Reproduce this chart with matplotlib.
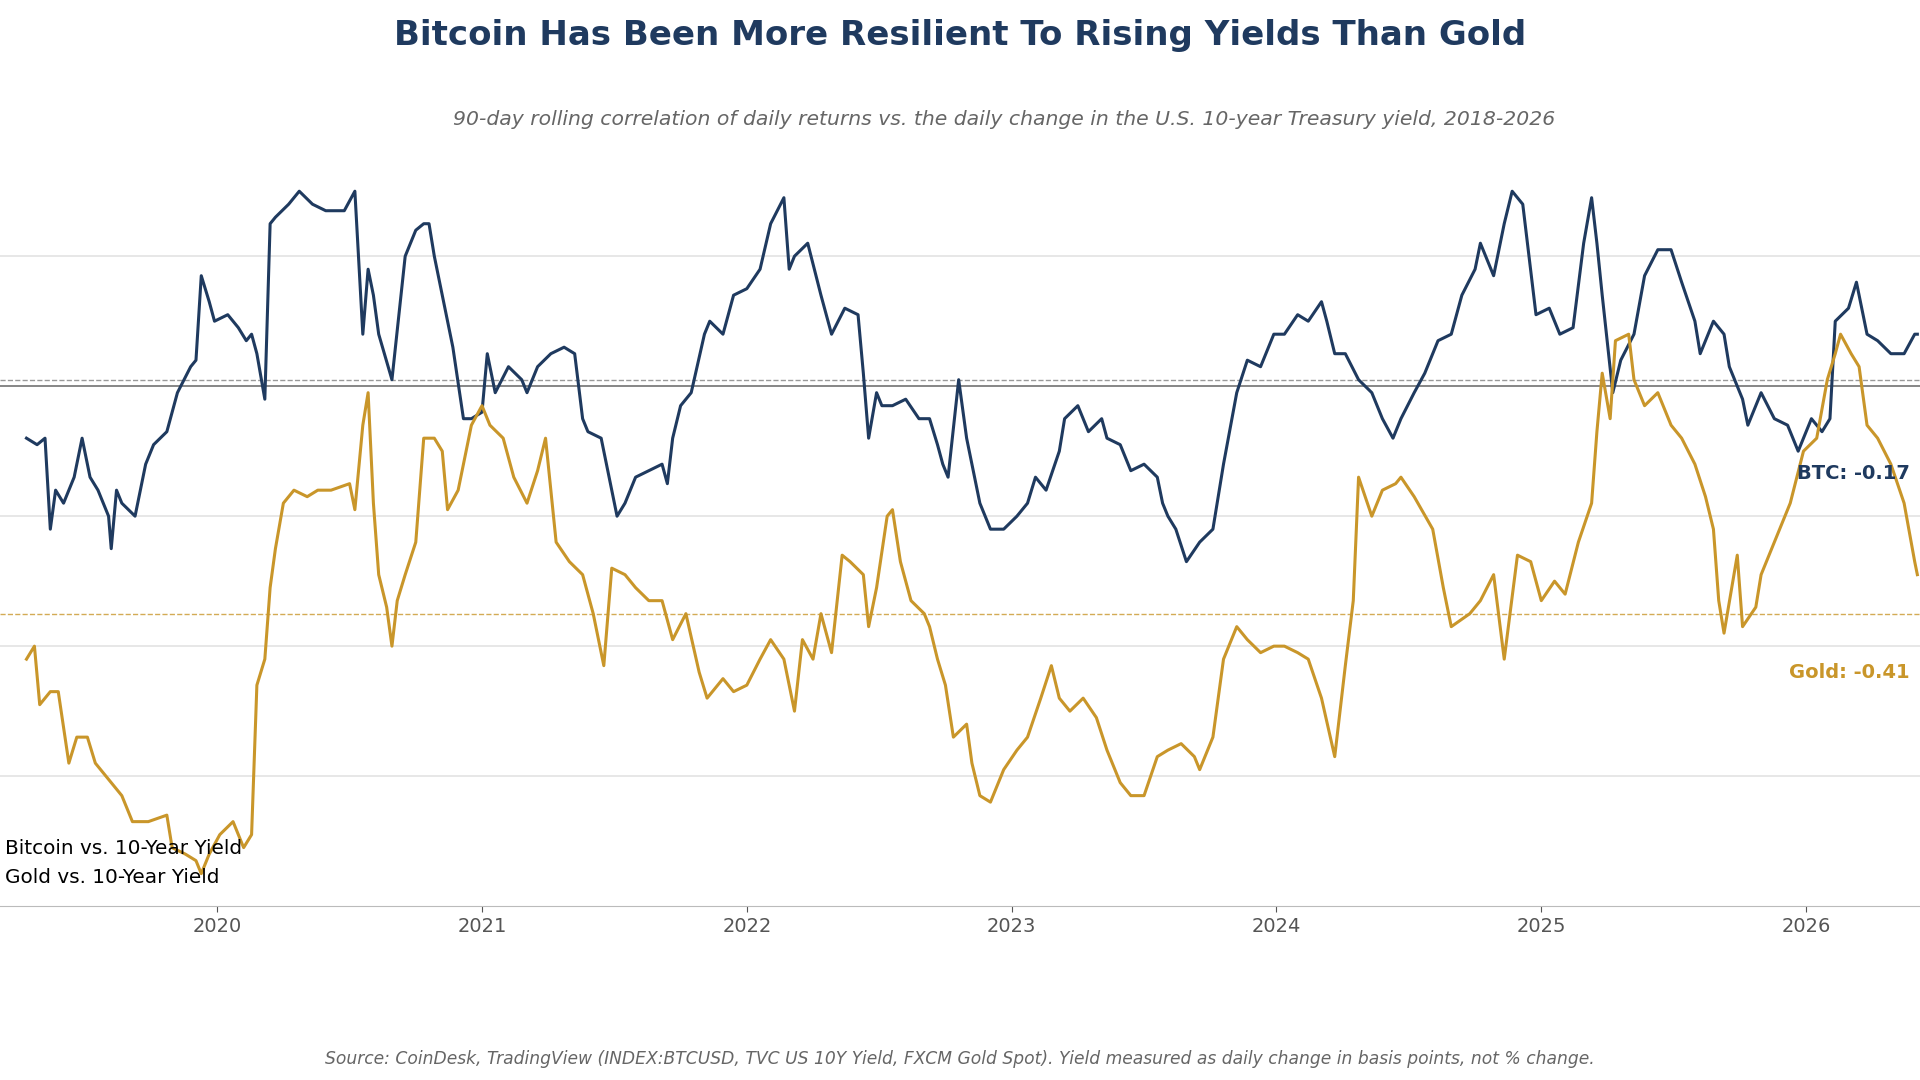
import matplotlib
matplotlib.use("Agg")
import matplotlib.pyplot as plt

# 90-day rolling correlation (decimal year, correlation)
btc_years = [2019.28, 2019.32, 2019.35, 2019.37, 2019.39, 2019.42, 2019.46, 2019.49, 2019.52, 2019.55, 2019.59, 2019.60, 2019.62, 2019.64, 2019.69, 2019.73, 2019.76, 2019.81, 2019.85, 2019.90, 2019.92, 2019.94, 2019.97, 2019.99, 2020.04, 2020.08, 2020.11, 2020.13, 2020.15, 2020.18, 2020.20, 2020.22, 2020.27, 2020.31, 2020.36, 2020.41, 2020.48, 2020.52, 2020.55, 2020.57, 2020.59, 2020.61, 2020.66, 2020.71, 2020.75, 2020.78, 2020.80, 2020.82, 2020.85, 2020.89, 2020.93, 2020.96, 2021.00, 2021.02, 2021.05, 2021.10, 2021.15, 2021.17, 2021.21, 2021.26, 2021.31, 2021.35, 2021.38, 2021.40, 2021.45, 2021.48, 2021.51, 2021.54, 2021.58, 2021.63, 2021.68, 2021.70, 2021.72, 2021.75, 2021.79, 2021.84, 2021.86, 2021.91, 2021.95, 2022.00, 2022.05, 2022.09, 2022.14, 2022.16, 2022.18, 2022.23, 2022.28, 2022.32, 2022.37, 2022.42, 2022.44, 2022.46, 2022.49, 2022.51, 2022.55, 2022.60, 2022.65, 2022.69, 2022.72, 2022.74, 2022.76, 2022.80, 2022.83, 2022.88, 2022.92, 2022.97, 2023.02, 2023.06, 2023.09, 2023.13, 2023.18, 2023.20, 2023.25, 2023.29, 2023.34, 2023.36, 2023.41, 2023.45, 2023.50, 2023.55, 2023.57, 2023.59, 2023.62, 2023.66, 2023.71, 2023.76, 2023.80, 2023.85, 2023.89, 2023.94, 2023.99, 2024.03, 2024.08, 2024.12, 2024.17, 2024.19, 2024.22, 2024.26, 2024.31, 2024.36, 2024.40, 2024.44, 2024.47, 2024.52, 2024.56, 2024.61, 2024.66, 2024.70, 2024.75, 2024.77, 2024.79, 2024.82, 2024.86, 2024.89, 2024.91, 2024.93, 2024.98, 2025.03, 2025.07, 2025.12, 2025.16, 2025.19, 2025.21, 2025.23, 2025.27, 2025.30, 2025.35, 2025.39, 2025.44, 2025.49, 2025.53, 2025.58, 2025.60, 2025.65, 2025.69, 2025.71, 2025.76, 2025.78, 2025.83, 2025.88, 2025.93, 2025.97, 2026.02, 2026.06, 2026.09, 2026.11, 2026.16, 2026.19, 2026.23, 2026.27, 2026.32, 2026.37, 2026.41, 2026.42]
btc_corr = [0.12, 0.11, 0.12, -0.02, 0.04, 0.02, 0.06, 0.12, 0.06, 0.04, 0.00, -0.05, 0.04, 0.02, 0.00, 0.08, 0.11, 0.13, 0.19, 0.23, 0.24, 0.37, 0.33, 0.30, 0.31, 0.29, 0.27, 0.28, 0.25, 0.18, 0.45, 0.46, 0.48, 0.50, 0.48, 0.47, 0.47, 0.50, 0.28, 0.38, 0.34, 0.28, 0.21, 0.40, 0.44, 0.45, 0.45, 0.40, 0.34, 0.26, 0.15, 0.15, 0.16, 0.25, 0.19, 0.23, 0.21, 0.19, 0.23, 0.25, 0.26, 0.25, 0.15, 0.13, 0.12, 0.06, 0.00, 0.02, 0.06, 0.07, 0.08, 0.05, 0.12, 0.17, 0.19, 0.28, 0.30, 0.28, 0.34, 0.35, 0.38, 0.45, 0.49, 0.38, 0.40, 0.42, 0.34, 0.28, 0.32, 0.31, 0.22, 0.12, 0.19, 0.17, 0.17, 0.18, 0.15, 0.15, 0.11, 0.08, 0.06, 0.21, 0.12, 0.02, -0.02, -0.02, 0.00, 0.02, 0.06, 0.04, 0.10, 0.15, 0.17, 0.13, 0.15, 0.12, 0.11, 0.07, 0.08, 0.06, 0.02, 0.00, -0.02, -0.07, -0.04, -0.02, 0.08, 0.19, 0.24, 0.23, 0.28, 0.28, 0.31, 0.30, 0.33, 0.30, 0.25, 0.25, 0.21, 0.19, 0.15, 0.12, 0.15, 0.19, 0.22, 0.27, 0.28, 0.34, 0.38, 0.42, 0.40, 0.37, 0.45, 0.50, 0.49, 0.48, 0.31, 0.32, 0.28, 0.29, 0.42, 0.49, 0.42, 0.34, 0.19, 0.24, 0.28, 0.37, 0.41, 0.41, 0.36, 0.30, 0.25, 0.30, 0.28, 0.23, 0.18, 0.14, 0.19, 0.15, 0.14, 0.10, 0.15, 0.13, 0.15, 0.30, 0.32, 0.36, 0.28, 0.27, 0.25, 0.25, 0.28, 0.28]

gold_years = [2019.28, 2019.31, 2019.33, 2019.37, 2019.40, 2019.44, 2019.47, 2019.51, 2019.54, 2019.60, 2019.64, 2019.68, 2019.74, 2019.81, 2019.83, 2019.88, 2019.92, 2019.94, 2019.97, 2020.01, 2020.06, 2020.10, 2020.13, 2020.15, 2020.18, 2020.20, 2020.22, 2020.25, 2020.29, 2020.34, 2020.38, 2020.43, 2020.50, 2020.52, 2020.55, 2020.57, 2020.59, 2020.61, 2020.64, 2020.66, 2020.68, 2020.71, 2020.75, 2020.78, 2020.82, 2020.85, 2020.87, 2020.91, 2020.96, 2021.00, 2021.03, 2021.08, 2021.12, 2021.17, 2021.21, 2021.24, 2021.28, 2021.33, 2021.38, 2021.42, 2021.46, 2021.49, 2021.54, 2021.58, 2021.63, 2021.68, 2021.72, 2021.77, 2021.82, 2021.85, 2021.91, 2021.95, 2022.00, 2022.05, 2022.09, 2022.14, 2022.18, 2022.21, 2022.25, 2022.28, 2022.32, 2022.36, 2022.39, 2022.44, 2022.46, 2022.49, 2022.53, 2022.55, 2022.58, 2022.62, 2022.67, 2022.69, 2022.72, 2022.75, 2022.78, 2022.83, 2022.85, 2022.88, 2022.92, 2022.97, 2023.02, 2023.06, 2023.11, 2023.15, 2023.18, 2023.22, 2023.27, 2023.32, 2023.36, 2023.41, 2023.45, 2023.50, 2023.55, 2023.59, 2023.64, 2023.69, 2023.71, 2023.76, 2023.80, 2023.85, 2023.89, 2023.94, 2023.99, 2024.03, 2024.08, 2024.12, 2024.17, 2024.22, 2024.24, 2024.26, 2024.29, 2024.31, 2024.36, 2024.40, 2024.45, 2024.47, 2024.52, 2024.59, 2024.63, 2024.66, 2024.73, 2024.77, 2024.82, 2024.86, 2024.91, 2024.96, 2025.00, 2025.05, 2025.09, 2025.14, 2025.19, 2025.21, 2025.23, 2025.26, 2025.28, 2025.33, 2025.35, 2025.39, 2025.44, 2025.49, 2025.53, 2025.58, 2025.62, 2025.65, 2025.67, 2025.69, 2025.74, 2025.76, 2025.81, 2025.83, 2025.88, 2025.92, 2025.94, 2025.99, 2026.04, 2026.08, 2026.11, 2026.13, 2026.17, 2026.20, 2026.23, 2026.27, 2026.32, 2026.37, 2026.41, 2026.42]
gold_corr = [-0.22, -0.20, -0.29, -0.27, -0.27, -0.38, -0.34, -0.34, -0.38, -0.41, -0.43, -0.47, -0.47, -0.46, -0.51, -0.52, -0.53, -0.55, -0.52, -0.49, -0.47, -0.51, -0.49, -0.26, -0.22, -0.11, -0.05, 0.02, 0.04, 0.03, 0.04, 0.04, 0.05, 0.01, 0.14, 0.19, 0.02, -0.09, -0.14, -0.20, -0.13, -0.09, -0.04, 0.12, 0.12, 0.10, 0.01, 0.04, 0.14, 0.17, 0.14, 0.12, 0.06, 0.02, 0.07, 0.12, -0.04, -0.07, -0.09, -0.15, -0.23, -0.08, -0.09, -0.11, -0.13, -0.13, -0.19, -0.15, -0.24, -0.28, -0.25, -0.27, -0.26, -0.22, -0.19, -0.22, -0.30, -0.19, -0.22, -0.15, -0.21, -0.06, -0.07, -0.09, -0.17, -0.11, 0.00, 0.01, -0.07, -0.13, -0.15, -0.17, -0.22, -0.26, -0.34, -0.32, -0.38, -0.43, -0.44, -0.39, -0.36, -0.34, -0.28, -0.23, -0.28, -0.30, -0.28, -0.31, -0.36, -0.41, -0.43, -0.43, -0.37, -0.36, -0.35, -0.37, -0.39, -0.34, -0.22, -0.17, -0.19, -0.21, -0.20, -0.20, -0.21, -0.22, -0.28, -0.37, -0.30, -0.23, -0.13, 0.06, 0.00, 0.04, 0.05, 0.06, 0.03, -0.02, -0.11, -0.17, -0.15, -0.13, -0.09, -0.22, -0.06, -0.07, -0.13, -0.10, -0.12, -0.04, 0.02, 0.13, 0.22, 0.15, 0.27, 0.28, 0.21, 0.17, 0.19, 0.14, 0.12, 0.08, 0.03, -0.02, -0.13, -0.18, -0.06, -0.17, -0.14, -0.09, -0.04, 0.00, 0.02, 0.10, 0.12, 0.21, 0.25, 0.28, 0.25, 0.23, 0.14, 0.12, 0.08, 0.02, -0.07, -0.09]

btc_avg = 0.21
btc_ref = 0.20
gold_avg = -0.15
year_ticks = [2020, 2021, 2022, 2023, 2024, 2025, 2026]
grid_levels = [0.4, 0.2, 0.0, -0.2, -0.4]

NAVY = "#1f3a5f"
GOLD = "#c9962a"

fig = plt.figure(figsize=(19.2, 10.8), dpi=100)
ax = fig.add_axes([0.0, 0.161, 1.0, 0.68])

for g in grid_levels:
    ax.axhline(g, color="#e3e3e3", lw=1.2, zorder=0)
ax.axhline(btc_ref, color="#777777", lw=1.2, zorder=1)
ax.axhline(btc_avg, color="#999999", lw=1.0, ls="--", zorder=1)
ax.axhline(gold_avg, color=GOLD, lw=1.0, ls="--", alpha=0.8, zorder=1)

ax.plot(btc_years, btc_corr, color=NAVY, lw=2.2, zorder=3)
ax.plot(gold_years, gold_corr, color=GOLD, lw=2.2, zorder=3)

ax.set_xlim(2019.18, 2026.43)
ax.set_ylim(-0.60, 0.53)
ax.set_yticks([])
ax.set_xticks(year_ticks)
ax.set_xticklabels([str(y) for y in year_ticks])
ax.tick_params(axis="x", colors="#555555", labelsize=14, length=4)
for s in ["top", "left", "right"]:
    ax.spines[s].set_visible(False)
ax.spines["bottom"].set_color("#bbbbbb")

ax.text(2026.39, 0.066, "BTC: -0.17", color=NAVY, fontsize=14, fontweight="bold", ha="right", va="center")
ax.text(2026.39, -0.24, "Gold: -0.41", color=GOLD, fontsize=14, fontweight="bold", ha="right", va="center")
ax.text(2019.198, -0.511, "Bitcoin vs. 10-Year Yield", color="black", fontsize=14.4, ha="left", va="center")
ax.text(2019.198, -0.556, "Gold vs. 10-Year Yield", color="black", fontsize=14.4, ha="left", va="center")

fig.text(0.5, 0.967, "Bitcoin Has Been More Resilient To Rising Yields Than Gold",
         ha="center", va="center", fontsize=24.5, fontweight="bold", color=NAVY)
fig.text(0.523, 0.889, "90-day rolling correlation of daily returns vs. the daily change in the U.S. 10-year Treasury yield, 2018-2026",
         ha="center", va="center", fontsize=14.7, style="italic", color="#666666")
fig.text(0.5, 0.019, "Source: CoinDesk, TradingView (INDEX:BTCUSD, TVC US 10Y Yield, FXCM Gold Spot). Yield measured as daily change in basis points, not % change.",
         ha="center", va="center", fontsize=12.3, style="italic", color="#666666")

fig.savefig("out.png", dpi=100, facecolor="white")
